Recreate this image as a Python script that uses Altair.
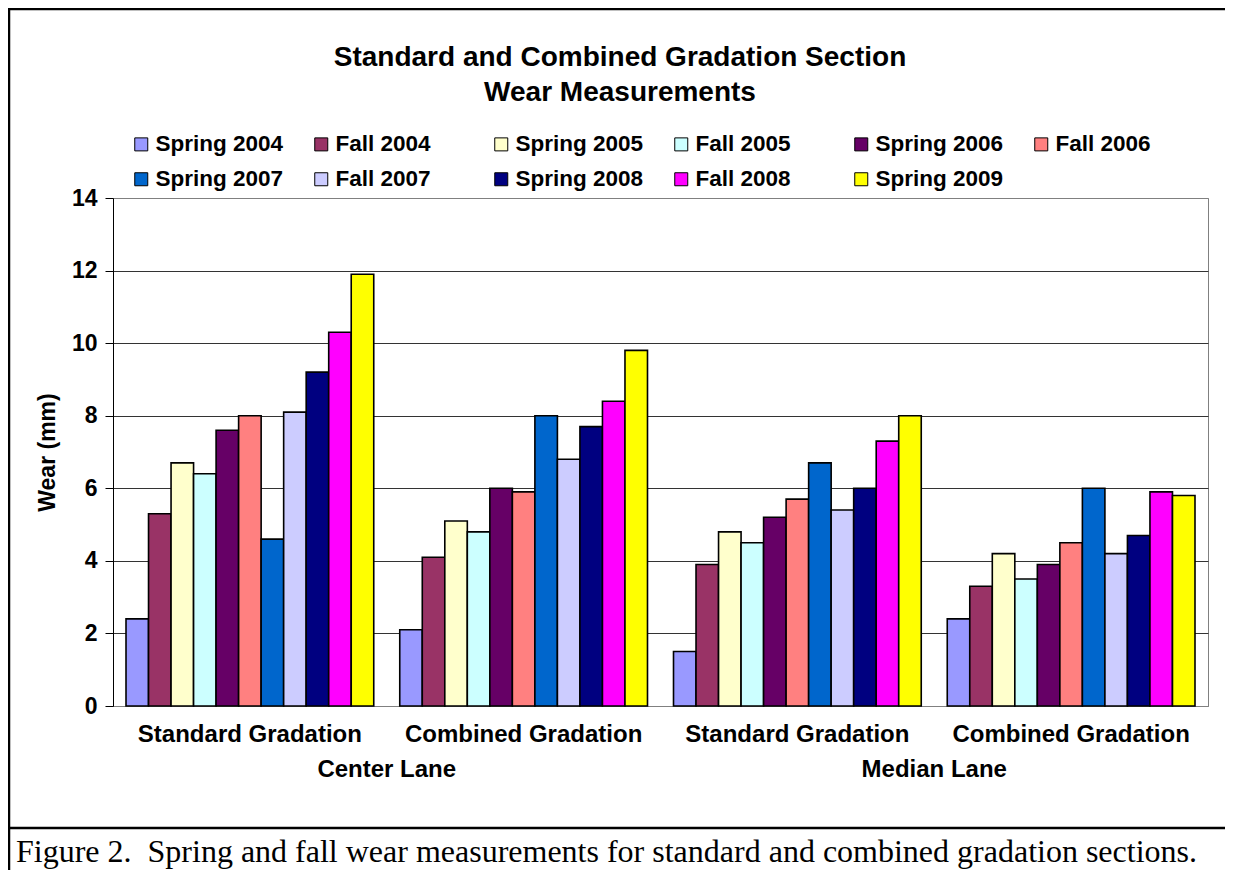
import altair as alt
import pandas as pd

# ---- data ----
series = ["Spring 2004", "Fall 2004", "Spring 2005", "Fall 2005", "Spring 2006", "Fall 2006",
          "Spring 2007", "Fall 2007", "Spring 2008", "Fall 2008", "Spring 2009"]
colors = ["#9999FF", "#993366", "#FFFFCC", "#CCFFFF", "#660066", "#FF8080",
          "#0066CC", "#CCCCFF", "#000080", "#FF00FF", "#FFFF00"]
lanes = ["Center Lane", "Center Lane", "Median Lane", "Median Lane"]
sections = ["Standard Gradation", "Combined Gradation", "Standard Gradation", "Combined Gradation"]
center_standard = [2.4, 5.3, 6.7, 6.4, 7.6, 8.0, 4.6, 8.1, 9.2, 10.3, 11.9]
center_combined = [2.1, 4.1, 5.1, 4.8, 6.0, 5.9, 8.0, 6.8, 7.7, 8.4, 9.8]
median_standard = [1.5, 3.9, 4.8, 4.5, 5.2, 5.7, 6.7, 5.4, 6.0, 7.3, 8.0]
median_combined = [2.4, 3.3, 4.2, 3.5, 3.9, 4.5, 6.0, 4.2, 4.7, 5.9, 5.8]
y_ticks = [0, 2, 4, 6, 8, 10, 12, 14]
title_lines = ["Standard and Combined Gradation Section", "Wear Measurements"]
y_title = "Wear (mm)"
lane_names = ["Center Lane", "Median Lane"]
caption = "Figure 2.\u00a0 Spring and fall wear measurements for standard and combined gradation sections."

values_by_group = [center_standard, center_combined, median_standard, median_combined]
group_keys = [f"{l}|{s}" for l, s in zip(lanes, sections)]
rows = []
for key, vals in zip(group_keys, values_by_group):
    for s, v in zip(series, vals):
        rows.append({"group": key, "series": s, "wear": v})
df = pd.DataFrame(rows)

W, H = 1095, 508
PAD = {"left": 105, "top": 190, "right": 17, "bottom": 164}
TOTAL_W = PAD["left"] + W + PAD["right"]
TOTAL_H = PAD["top"] + H + PAD["bottom"]

grid_color = {"condition": {"test": "datum.value >= 14 || datum.value <= 0", "value": "#808080"},
              "value": "#333333"}

bars = alt.Chart(df).mark_bar(stroke="black", strokeWidth=1.6, opacity=1).encode(
    x=alt.X("group:N", sort=group_keys,
            scale=alt.Scale(paddingInner=0.095, paddingOuter=0.0475),
            axis=alt.Axis(title=None, labelExpr="split(datum.label, '|')[1]", ticks=False,
                          domainColor="#808080", labelFontSize=24, labelFontWeight="bold",
                          labelColor="black", labelPadding=16, labelAngle=0, grid=False,
                          labelLimit=400)),
    xOffset=alt.XOffset("series:N", sort=series, scale=alt.Scale(paddingInner=0, paddingOuter=0)),
    y=alt.Y("wear:Q", scale=alt.Scale(domain=[0, 14], nice=False),
            axis=alt.Axis(values=y_ticks, title=y_title, domainColor="black", tickColor="black",
                          tickSize=8, labelPadding=8, labelFontSize=23, labelFontWeight="bold",
                          labelColor="black", gridColor=grid_color, gridWidth=1,
                          titleFontSize=23, titleFontWeight="bold", titleColor="black",
                          titleAngle=270, titleAlign="center", titleBaseline="middle",
                          titleX=-66, titleY=254)),
    color=alt.Color("series:N", sort=series, scale=alt.Scale(domain=series, range=colors),
                    legend=alt.Legend(title=None, orient="none", legendX=17, legendY=-65,
                                      columns=6, direction="horizontal", gridAlign="all",
                                      columnPadding=26, rowPadding=12,
                                      symbolType="square", symbolSize=169,
                                      symbolStrokeColor="black", symbolStrokeWidth=1,
                                      symbolOpacity=1,
                                      labelFontSize=22.5, labelFontWeight="bold",
                                      labelColor="black", labelOffset=3, labelLimit=300)),
)

one = pd.DataFrame({"k": [0]})

title = alt.Chart(one).mark_text(text=title_lines, fontSize=28, fontWeight="bold", color="black",
                                 align="center", baseline="middle", lineHeight=35).encode(
    x=alt.value(507), y=alt.value(-140))

lane_center = alt.Chart(one).mark_text(text=lane_names[0], fontSize=24, fontWeight="bold",
                                       color="black", align="center", baseline="middle").encode(
    x=alt.value(W / 4), y=alt.value(572))
lane_median = alt.Chart(one).mark_text(text=lane_names[1], fontSize=24, fontWeight="bold",
                                       color="black", align="center", baseline="middle").encode(
    x=alt.value(3 * W / 4), y=alt.value(572))

cap = alt.Chart(one).mark_text(text=caption, font="Liberation Serif", fontSize=32,
                               color="black", align="left", baseline="alphabetic").encode(
    x=alt.value(-97), y=alt.value(664))

left_x = -PAD["left"]
right_x = TOTAL_W - PAD["left"]
top_line = alt.Chart(one).mark_rule(color="black", strokeWidth=2.5).encode(
    x=alt.value(left_x), x2=alt.value(right_x), y=alt.value(-189))
left_line = alt.Chart(one).mark_rule(color="black", strokeWidth=2.5).encode(
    x=alt.value(left_x + 1), y=alt.value(-PAD["top"]), y2=alt.value(TOTAL_H - PAD["top"]))
cap_line = alt.Chart(one).mark_rule(color="black", strokeWidth=2.5).encode(
    x=alt.value(left_x), x2=alt.value(right_x), y=alt.value(630))

chart = alt.layer(bars, title, lane_center, lane_median, cap, top_line, left_line, cap_line).properties(
    width=W, height=H, padding=PAD, autosize=alt.AutoSizeParams(type="none"), background="white"
).configure(font="Liberation Sans").configure_view(stroke="#808080", strokeWidth=1)

chart.save("out.html", embed_options={"renderer": "svg", "actions": False})
